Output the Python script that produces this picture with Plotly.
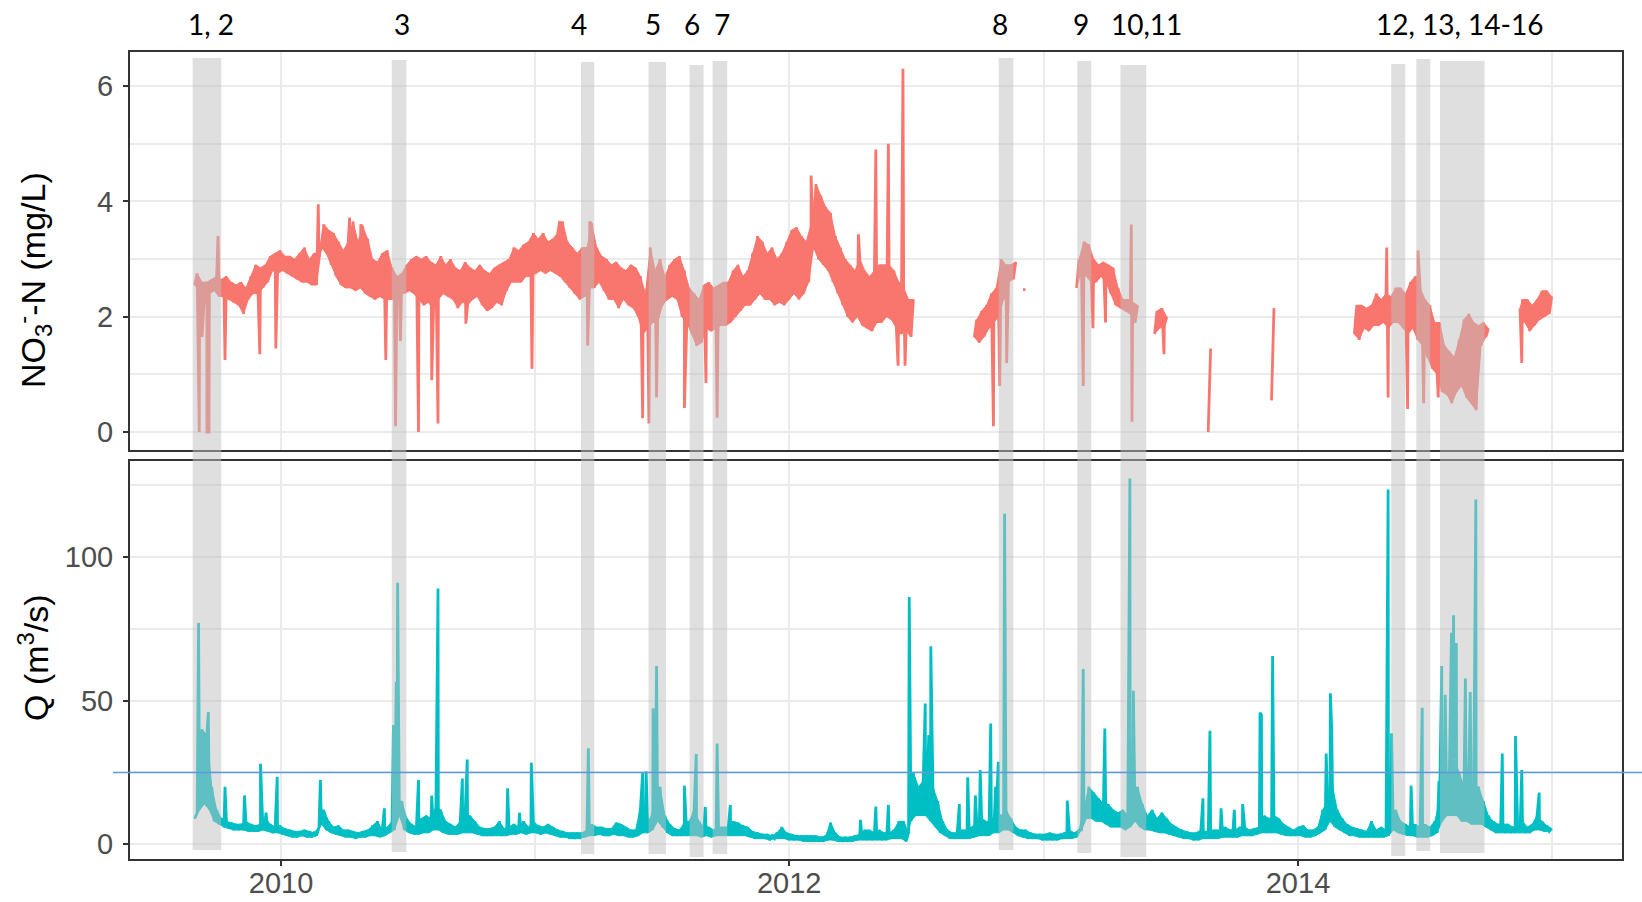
import pandas as pd
import plotly.graph_objects as go

# ---------------------------------------------------------------------------
# Data
# ---------------------------------------------------------------------------
# Both series are stored as weekly envelopes (low / high of the diel band)
# starting at WEEK0, plus the short storm excursions listed separately.
WEEK0 = "2009-08-30"
N = None

no3_low = [
    2.55, 2.45, 2.4, 2.4, 2.45, 2.35, 2.35, 2.3, 2.25, 2.2,
    2.05, 2.3, 2.4, 2.4, 2.5, 2.6, 2.8, 2.75, 2.8, 2.75,
    2.7, 2.65, 2.6, 2.6, 2.55, 2.55, 3.2, 3.1, 2.9, 2.7,
    2.55, 2.5, 2.5, 2.45, 2.5, 2.4, 2.35, 2.3, 2.35, 2.3,
    2.3, 2.3, 2.45, 2.4, 2.45, 2.4, 2.3, 2.2, 2.25, 2.1,
    2.3, 2.4, 2.35, 2.3, 2.15, 2.25, 2.2, 2.3, 2.35, 2.2,
    2.1, 2.15, 2.25, 2.2, 2.45, 2.6, 2.6, 2.6, 2.7, 2.7,
    2.75, 2.8, 2.75, 2.8, 2.75, 2.7, 2.6, 2.5, 2.4, 2.3,
    2.35, 2.5, 2.5, 2.6, 2.45, 2.3, 2.3, 2.15, 2.3, 2.2,
    2.15, 2.0, 1.7, 1.8, 1.9, 1.9, 2.2, 2.3, 2.35, 2.3,
    2.0, 1.9, 1.7, 1.5, 1.55, 1.8, 1.75, 1.8, 1.85, 1.85,
    1.9, 2.0, 2.1, 2.2, 2.2, 2.3, 2.4, 2.3, 2.3, 2.2,
    2.25, 2.2, 2.3, 2.4, 2.3, 2.4, 2.6, 3.2, 3.0, 2.9,
    2.8, 2.6, 2.4, 2.2, 2.0, 1.9, 2.0, 1.85, 1.8, 1.75,
    1.9, 1.9, 2.0, 1.95, 1.8, 1.7, 1.75, 1.65, N, N,
    N, N, N, N, N, N, N, N, N, N,
    1.65, 1.55, 1.65, 1.8, 1.9, 2.0, 2.3, 2.6, 2.65, N,
    2.47, N, N, N, N, N, N, N, N, N,
    N, 2.5, 2.8, 2.7, 2.6, 2.6, 2.7, 2.6, 2.4, 2.2,
    2.15, 2.1, 2.05, 1.9, N, N, N, 1.7, 1.8, 1.85,
    N, N, N, N, N, N, N, N, 0.0, N,
    N, N, N, N, N, N, N, N, N, N,
    N, 0.55, N, N, N, N, N, N, N, N,
    N, N, N, N, N, N, N, N, 1.7, 1.6,
    1.8, 1.75, 1.85, 1.85, 1.9, 1.8, 1.9, 1.9, 1.8, 1.7,
    1.8, 1.6, 1.5, 1.3, 1.1, 1.0, 0.7, 0.65, 0.5, 0.7,
    0.8, 0.6, 0.5, 0.38, 1.5, 1.65, N, N, N, N,
    N, N, 2.15, 1.9, 1.75, 1.85, 1.95, 2.0, 2.05,
]

no3_high = [
    2.75, 2.6, 2.6, 2.65, 2.7, 2.65, 2.7, 2.6, 2.55, 2.6,
    2.5, 2.7, 2.9, 2.85, 2.9, 3.05, 3.1, 3.15, 3.05, 3.05,
    3.0, 3.1, 3.2, 3.0, 3.1, 3.1, 3.6, 3.5, 3.45, 3.3,
    3.15, 3.3, 3.65, 3.3, 3.55, 3.35, 3.0, 2.95, 3.1, 3.15,
    2.85, 2.7, 2.75, 2.9, 3.0, 3.05, 3.0, 3.05, 2.95, 2.9,
    3.05, 2.9, 3.0, 2.85, 2.8, 2.95, 2.85, 2.8, 2.9, 2.8,
    2.75, 2.85, 2.9, 2.95, 3.0, 3.2, 3.15, 3.25, 3.3, 3.45,
    3.35, 3.45, 3.3, 3.35, 3.45, 3.65, 3.3, 3.2, 3.1, 3.2,
    3.2, 3.6, 3.2, 3.05, 3.0, 2.9, 2.95, 2.85, 2.8, 2.9,
    2.85, 2.7, 2.4, 3.2, 2.8, 3.0, 2.7, 2.9, 3.0, 3.05,
    2.8, 2.5, 2.4, 2.3, 2.55, 2.6, 2.5, 2.55, 2.6, 2.6,
    2.8, 2.9, 2.7, 2.8, 3.1, 3.4, 3.3, 3.1, 3.2, 3.0,
    3.1, 3.3, 3.5, 3.55, 3.4, 3.3, 3.6, 4.3, 4.1, 3.9,
    3.8, 3.4, 3.2, 3.0, 2.9, 2.8, 3.0, 2.8, 2.7, 2.8,
    2.9, 2.9, 2.9, 2.8, 2.6, 2.5, 2.3, 2.3, N, N,
    N, N, N, N, N, N, N, N, N, N,
    1.95, 2.1, 2.2, 2.4, 2.5, 3.0, 2.9, 2.9, 2.95, N,
    2.47, N, N, N, N, N, N, N, N, N,
    N, 3.0, 3.3, 3.25, 3.0, 2.9, 2.95, 2.9, 2.85, 2.5,
    2.3, 2.3, 2.25, 2.2, N, N, N, 2.1, 2.15, 2.0,
    N, N, N, N, N, N, N, N, 1.45, N,
    N, N, N, N, N, N, N, N, N, N,
    N, 2.15, N, N, N, N, N, N, N, N,
    N, N, N, N, N, N, N, N, 2.2, 2.2,
    2.15, 2.2, 2.4, 2.3, 2.4, 2.35, 2.5, 2.5, 2.4, 2.6,
    2.7, 2.5, 2.3, 2.2, 1.9, 1.9, 1.5, 1.4, 1.3, 1.6,
    1.95, 2.05, 1.9, 1.85, 1.9, 1.8, N, N, N, N,
    N, N, 2.3, 2.3, 2.2, 2.3, 2.45, 2.45, 2.35,
]

no3_spike_dates = [
    "2009-09-05", "2009-09-09", "2009-09-16", "2009-09-19", "2009-10-02",
    "2009-10-12", "2009-12-01", "2009-12-24", "2010-02-23", "2010-04-09",
    "2010-04-25", "2010-05-31", "2010-06-14", "2010-06-21", "2010-07-17",
    "2010-08-05", "2010-08-14", "2010-09-23", "2010-12-27", "2011-02-05",
    "2011-03-17", "2011-03-20", "2011-06-04", "2011-06-13", "2011-06-24",
    "2011-08-03", "2011-09-03", "2011-09-19", "2012-02-01", "2012-04-09",
    "2012-05-04", "2012-05-22", "2012-06-05", "2012-06-12", "2012-06-15",
    "2012-10-20", "2012-10-29", "2012-11-08", "2013-02-26", "2013-03-12",
    "2013-03-30", "2013-05-06", "2013-05-07", "2013-06-22", "2014-05-08",
    "2014-05-10", "2014-06-07", "2014-06-22", "2014-06-30", "2014-07-21",
    "2014-11-18",
]
no3_spike_values = [
    0.0, 1.65, 0.0, 0.0, 3.4,
    1.25, 1.35, 1.45, 3.95, 3.72,
    3.6, 1.25, 0.1, 1.58, 0.0,
    0.9, 0.15, 1.88, 1.1, 3.66,
    1.5, 3.65, 0.24, 0.15, 0.6,
    0.42, 0.85, 0.25, 4.45, 3.43,
    4.9, 5.0, 1.15, 6.3, 1.15,
    0.1, 0.8, 1.2, 0.8, 1.8,
    1.9, 3.6, 0.18, 1.35, 3.2,
    0.6, 0.4, 3.15, 0.5, 0.6,
    1.2,
]

q_low = [
    9, 12, 14, 12, 8, 7, 6, 5.5, 5, 5,
    5, 4.5, 4.5, 4.5, 5, 4.5, 4, 4, 3.5, 3,
    2.5, 2.5, 3, 2.5, 2.5, 3, 7, 5, 4, 3.5,
    3, 2.5, 2.5, 2, 2.5, 2.5, 3, 3, 2.5, 3,
    4, 5, 10, 5, 4, 3.5, 3.5, 4, 4, 5,
    5, 4, 3.5, 3.5, 3.5, 4, 4, 4, 3.5, 3,
    3, 3, 3, 3, 3, 3.5, 3.5, 4, 3.5, 4,
    4, 3.5, 4, 3.5, 3, 2.5, 2.5, 2, 2, 2,
    2.5, 3, 3, 3.5, 3, 3, 3.5, 3, 3, 2.5,
    2.5, 3, 4, 4, 5, 8, 6, 4, 3, 3,
    3, 3, 3, 3, 2.5, 3, 2.5, 3, 3, 3,
    3, 3, 3, 3, 2.5, 2, 2, 2, 1.5, 2,
    2, 2, 1.5, 1.5, 1.5, 1, 1, 1, 1, 1,
    1.5, 1.5, 1, 1, 1, 1, 1.5, 1.5, 1.5, 1.5,
    1.5, 1.5, 1.5, 2, 2, 2, 1, 8, 10, 10,
    10, 8, 6, 4, 3, 2, 2, 2, 2, 2,
    2.5, 3, 3, 3, 4, 4, 5, 5, 4, 3,
    2.5, 2, 2, 2, 1.5, 1.5, 1.5, 1.5, 2, 2,
    2, 2.5, 5, 9, 9, 8, 8, 7, 6, 6,
    6, 5, 6, 8, 6, 5, 5, 4.5, 4, 4,
    3.5, 3, 2.5, 2, 2, 1.5, 1.5, 2, 2, 2,
    2, 2.5, 2.5, 2.5, 2.5, 3, 3, 3, 3.5, 4,
    4, 4, 4, 3.5, 3, 3, 3, 3, 2.5, 2.5,
    3, 4, 5, 8, 6, 5, 4, 3, 3, 2.5,
    2.5, 2.5, 2.5, 2.5, 2.5, 3, 5, 4, 3.5, 3,
    3, 2.5, 2.5, 2.5, 3, 4, 8, 10, 10, 10,
    8, 8, 7, 7, 7, 6, 5, 4, 4, 4,
    4, 4, 4, 4, 4, 5, 5, 4.5, 4.5,
]

q_high = [
    11, 40, 38, 20, 12, 9, 8, 7.5, 7, 7,
    8, 7, 6.5, 7, 9, 7, 6, 6.5, 5.5, 5,
    4.5, 4.5, 5, 4.5, 4, 6, 12, 8, 6, 6.5,
    5, 5, 4.5, 4, 4.5, 5, 6.5, 8, 5, 6,
    8, 15, 15, 9, 7, 6, 9, 10, 9, 13,
    12, 8, 7, 6, 8, 10, 10, 8, 6, 5.5,
    5.5, 6, 8, 5.5, 6, 7, 6, 8, 6, 8,
    6.5, 6, 7, 6, 5, 4.5, 4, 4, 4, 4,
    5, 7, 6, 6, 5.5, 5.5, 7.5, 7, 6, 5,
    5, 13, 8, 9, 15, 20, 10, 7, 5.5, 5,
    7.5, 8, 12, 8, 6, 6, 5, 6, 6, 6,
    8, 7.5, 6.5, 6, 4.5, 4, 3.5, 3.5, 3, 4,
    6, 4, 3.5, 3, 3, 3, 3, 3, 2.5, 3,
    7.5, 4, 2.5, 2.5, 2.5, 3, 3.5, 5, 5, 4,
    5, 4, 4, 5, 8, 8, 4, 25, 20, 22,
    30, 20, 15, 8, 5, 4, 4, 5, 5, 6,
    8, 9, 8, 8, 12, 10, 12, 9, 6, 5,
    5, 4, 3.5, 3.5, 3.5, 4, 3.5, 3.5, 4, 5,
    4, 5, 12, 20, 18, 16, 14, 14, 12, 11,
    12, 10, 12, 20, 14, 10, 12, 9, 11, 9,
    7, 6, 5, 4.5, 4, 4, 5, 4.5, 5, 5,
    5, 6, 5, 5, 6, 6, 5, 5.5, 6, 10,
    9, 10, 9, 7, 6, 5, 6, 6.5, 5, 5,
    6, 12, 15, 20, 12, 9, 7, 6, 5.5, 5,
    4.5, 8, 5, 6, 5, 8, 12, 8, 7, 6,
    7, 6, 7, 6, 8, 15, 25, 25, 30, 25,
    20, 25, 20, 20, 15, 10, 8, 7, 7, 7,
    6, 7, 8, 6, 7, 10, 8, 6.5, 5.5,
]

q_spike_dates = [
    "2009-09-04", "2009-09-18", "2009-10-12", "2009-11-09", "2009-12-02",
    "2009-12-10", "2009-12-26", "2010-02-26", "2010-05-29", "2010-06-11",
    "2010-06-15", "2010-06-17", "2010-07-17", "2010-08-05", "2010-08-14",
    "2010-09-18", "2010-09-25", "2010-11-22", "2010-12-09", "2010-12-26",
    "2011-03-18", "2011-06-04", "2011-06-09", "2011-06-19", "2011-06-24",
    "2011-08-03", "2011-08-20", "2011-09-02", "2011-09-19", "2011-10-08",
    "2012-04-12", "2012-05-04", "2012-05-22", "2012-06-21", "2012-07-14",
    "2012-07-19", "2012-07-22", "2012-09-01", "2012-09-13", "2012-09-24",
    "2012-10-01", "2012-10-16", "2012-10-23", "2012-10-27", "2012-11-05",
    "2013-02-03", "2013-02-26", "2013-03-29", "2013-05-04", "2013-05-09",
    "2013-08-17", "2013-08-27", "2013-09-12", "2013-10-01", "2013-10-13",
    "2013-11-07", "2013-11-09", "2013-11-25", "2014-02-10", "2014-02-16",
    "2014-02-18", "2014-05-10", "2014-05-15", "2014-06-12", "2014-06-28",
    "2014-07-22", "2014-07-26", "2014-07-31", "2014-08-09", "2014-08-12",
    "2014-08-16", "2014-08-29", "2014-09-05", "2014-09-13", "2014-10-21",
    "2014-11-09", "2014-11-18", "2014-12-13",
]
q_spike_values = [
    77, 46, 20, 17, 28,
    11, 23.5, 22.4, 12.5, 41.5,
    56.5, 91, 22.4, 17, 89,
    22.9, 29.5, 19.5, 11, 28.4,
    33.4, 24.9, 25.3, 47.3, 62,
    20.4, 31.4, 13, 35.1, 13.7,
    8.5, 13.1, 13.7, 86, 49,
    38, 68.9, 14, 23.3, 17,
    25.8, 42, 20, 28.7, 115,
    15.2, 61, 40.3, 127.2, 53.4,
    16, 39.5, 12.5, 12, 14,
    45.8, 45, 65.5, 31.6, 52.5,
    40, 123.4, 38.6, 20.4, 47.5,
    22, 62, 52, 73.6, 79.7,
    70, 57.7, 53, 119.9, 31.6,
    37.7, 25.8, 18,
]

# Highlighted events (grey bands) and their labels
event_starts = ["2009-08-27", "2010-06-09", "2011-03-08", "2011-06-13",
                "2011-08-11", "2011-09-13", "2012-10-28", "2013-02-18",
                "2013-04-21", "2014-05-15", "2014-06-20", "2014-07-24"]
event_ends = ["2009-10-07", "2010-06-30", "2011-03-27", "2011-07-08",
              "2011-08-31", "2011-10-04", "2012-11-18", "2013-03-10",
              "2013-05-28", "2014-06-04", "2014-07-10", "2014-09-26"]
event_labels = ["1, 2", "3", "4", "5", "6", "7", "8", "9", "10,11",
                "12, 13, 14-16"]
event_label_dates = ["2009-09-22", "2010-06-24", "2011-03-05", "2011-06-20",
                     "2011-08-15", "2011-09-27", "2012-10-30", "2013-02-23",
                     "2013-05-29", "2014-08-21"]

# Reference discharge level
q_reference = 25

year_ticks = ["2010-01-01", "2012-01-01", "2014-01-01"]
year_minor = ["2011-01-01", "2013-01-01", "2015-01-01"]


# ---------------------------------------------------------------------------
# Paths
# ---------------------------------------------------------------------------
HALF_WEEK = pd.Timedelta(hours=84)


def week_time(i):
    return pd.Timestamp(WEEK0) + pd.Timedelta(days=7 * i)


def weekly_path(low, high, spike_dates, spike_values):
    """Zig-zag between weekly low and high with storm excursions merged in."""
    pts = []
    for i, (lo, hi) in enumerate(zip(low, high)):
        t = week_time(i)
        if lo is None:
            pts.append((t, None))
        else:
            pts.append((t, lo))
            pts.append((t + HALF_WEEK, hi))
    for d, v in zip(spike_dates, spike_values):
        pts.append((pd.Timestamp(d) + pd.Timedelta(hours=12), v))
    pts.sort(key=lambda p: p[0])
    return [p[0] for p in pts], [p[1] for p in pts]


def band_polygons(low, high):
    """Closed outlines of the low-high envelope, one per unbroken run."""
    xs, ys = [], []
    run = []
    for i, lo in enumerate(low + [None]):
        if lo is not None:
            run.append(i)
            continue
        if len(run) > 1:
            for j in run:
                xs.append(week_time(j))
                ys.append(low[j])
            for j in reversed(run):
                xs.append(week_time(j) + HALF_WEEK)
                ys.append(high[j])
            xs.append(week_time(run[0]))
            ys.append(low[run[0]])
            xs.append(None)
            ys.append(None)
        run = []
    return xs, ys


no3_x, no3_y = weekly_path(no3_low, no3_high, no3_spike_dates, no3_spike_values)
q_x, q_y = weekly_path(q_low, q_high, q_spike_dates, q_spike_values)
no3_bx, no3_by = band_polygons(no3_low, no3_high)
q_bx, q_by = band_polygons(q_low, q_high)

# ---------------------------------------------------------------------------
# Figure
# ---------------------------------------------------------------------------
W, H = 1642, 902
ML, MR, MT, MB = 130, 20, 52, 43
plot_h = H - MT - MB


def py(pix):
    """Pixel row -> paper y."""
    return (H - MB - pix) / plot_h


def px(pix):
    """Pixel column -> paper x."""
    return (pix - ML) / (W - ML - MR)


RED = "#F8766D"
TEAL = "#00BFC4"
LINE_W = 2.8
TICK_FONT = dict(family="Liberation Sans, Arial, sans-serif", size=29,
                 color="#4D4D4D")
GRID = "#EBEBEB"
BORDER = "#333333"

fig = go.Figure()
for bx, by, color, xa, ya in [(no3_bx, no3_by, RED, "x", "y"),
                              (q_bx, q_by, TEAL, "x2", "y2")]:
    fig.add_trace(go.Scatter(
        x=bx, y=by, mode="lines", xaxis=xa, yaxis=ya, fill="toself",
        fillcolor=color, line=dict(color=color, width=1),
        hoverinfo="skip", showlegend=False))
fig.add_trace(go.Scatter(
    x=no3_x, y=no3_y, mode="lines", xaxis="x", yaxis="y",
    line=dict(color=RED, width=LINE_W), hoverinfo="skip", showlegend=False))
fig.add_trace(go.Scatter(
    x=q_x, y=q_y, mode="lines", xaxis="x2", yaxis="y2",
    line=dict(color=TEAL, width=LINE_W), hoverinfo="skip", showlegend=False))

x_common = dict(
    type="date", range=["2009-05-29", "2015-04-11 12:00"],
    tickmode="array", tickvals=year_ticks, tickformat="%Y",
    showgrid=True, gridcolor=GRID, gridwidth=2,
    minor=dict(tickmode="array", tickvals=year_minor, showgrid=True,
               gridcolor=GRID, gridwidth=2, ticks=""),
    showline=True, linecolor=BORDER, linewidth=2, mirror=True,
    zeroline=False, tickfont=TICK_FONT, automargin=False,
)
y_common = dict(
    showgrid=True, gridcolor=GRID, gridwidth=2,
    showline=True, linecolor=BORDER, linewidth=2, mirror=True,
    zeroline=False, ticks="outside", ticklen=5, tickwidth=1.5,
    tickcolor=BORDER, tickfont=TICK_FONT, ticklabelstandoff=4,
    automargin=False,
)

top_dom = [py(450), 1.0]
bot_dom = [0.0, py(461)]

fig.update_layout(
    width=W, height=H,
    margin=dict(l=ML, r=MR, t=MT, b=MB, autoexpand=False),
    paper_bgcolor="white", plot_bgcolor="white",
    showlegend=False,
    xaxis=dict(x_common, domain=[0, 1], anchor="y", showticklabels=False,
               ticks=""),
    xaxis2=dict(x_common, domain=[0, 1], anchor="y2", matches="x",
                ticks="outside", ticklen=5, tickwidth=1.5, tickcolor=BORDER,
                ticklabelstandoff=-8),
    yaxis=dict(y_common, domain=top_dom, range=[-0.31, 6.59],
               tickmode="array", tickvals=[0, 2, 4, 6],
               minor=dict(tickmode="array", tickvals=[1, 3, 5],
                          showgrid=True, gridcolor=GRID, gridwidth=2,
                          ticks="")),
    yaxis2=dict(y_common, domain=bot_dom, range=[-5.1, 133.3],
                tickmode="array", tickvals=[0, 50, 100],
                minor=dict(tickmode="array", tickvals=[25, 75, 125],
                           showgrid=True, gridcolor=GRID, gridwidth=2,
                           ticks="")),
)

# Grey event bands spanning both panels (slightly uneven heights)
band_extent_px = [(58, 850), (60, 852), (62, 854), (62, 854), (65, 857),
                  (61, 854), (58, 850), (61, 853), (65, 857), (64, 856),
                  (59, 851), (61, 853)]
for s, e, (top, bot) in zip(event_starts, event_ends, band_extent_px):
    fig.add_shape(type="rect", xref="x", yref="paper", x0=s, x1=e,
                  y0=py(bot), y1=py(top), fillcolor="rgba(191,191,191,0.5)",
                  line=dict(width=0), layer="above")

# Reference discharge line
fig.add_shape(type="line", xref="paper", yref="y2", x0=px(113), x1=px(1642),
              y0=q_reference, y1=q_reference,
              line=dict(color="#5B9BD5", width=1.5), layer="above")

# Event labels above the top panel
for lab, d in zip(event_labels, event_label_dates):
    fig.add_annotation(x=d, xref="x", y=py(24), yref="paper", text=lab,
                       showarrow=False, xanchor="center", yanchor="middle",
                       font=dict(family="Lato, Open Sans, sans-serif",
                                 size=28, color="black"))

# Axis titles
TITLE_FONT = dict(family="Liberation Sans, Arial, sans-serif", size=34,
                  color="black")
fig.add_annotation(x=px(33), xref="paper", y=py(280), yref="paper",
                   text="NO<sub>3</sub><sup>-</sup>-N (mg/L)", textangle=-90,
                   showarrow=False, xanchor="center", yanchor="middle",
                   font=TITLE_FONT)
fig.add_annotation(x=px(33), xref="paper", y=py(658), yref="paper",
                   text="Q (m<sup>3</sup>/s)", textangle=-90,
                   showarrow=False, xanchor="center", yanchor="middle",
                   font=TITLE_FONT)

fig.write_html("out.html", config={"displayModeBar": False})
